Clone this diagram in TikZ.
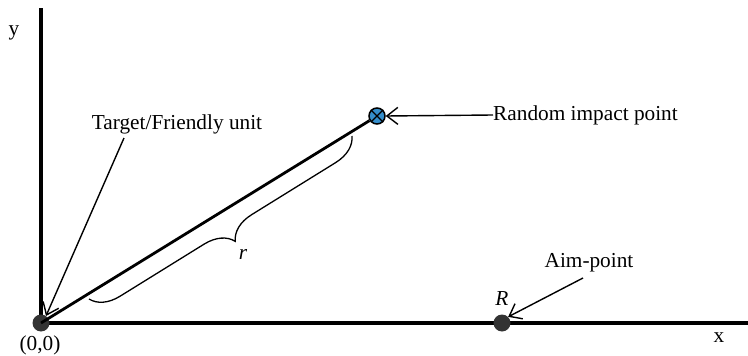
\documentclass[tikz,border=0pt]{standalone}
\usepackage{fontspec}
\setmainfont{Liberation Serif}
\usetikzlibrary{arrows.meta,decorations.pathreplacing}
\definecolor{impblue}{RGB}{52,142,204}
\begin{document}
\begin{tikzpicture}[x=1pt,y=-1pt,
  axis/.style={line width=3.2pt},
  lbl/.style={font=\fontsize{21.3}{24}\selectfont, inner sep=0pt},
  ilbl/.style={font=\fontsize{21.3}{24}\selectfont\itshape, inner sep=0pt},
  ptr/.style={line width=1.4pt,-{Straight Barb[length=11pt,width=17pt,line width=1.4pt]}},
  dot/.style={circle,fill=black!80,minimum size=17pt,inner sep=0pt}]
\useasboundingbox (0,0) rectangle (748,356);
\coordinate (O) at (41,323);
\coordinate (ytop) at (41,8);
\coordinate (xend) at (748,323);
\draw[axis] (ytop) -- (O) -- (xend);
\node[dot] (origin) at (O) {};
\node[lbl] (ylab) at (14,33) {y};
\node[lbl] (xlab) at (719,338) {x};
\node[lbl] (olab) at (40,345) {(0,0)};
% impact point
\node[circle,draw=black,line width=1.5pt,fill=impblue,minimum size=16pt,inner sep=0pt] (imp) at (377,116) {};
\draw[line width=1.2pt] (imp.north west) -- (imp.south east) (imp.north east) -- (imp.south west);
\draw[line width=2.8pt] (origin.center) -- (imp);
\node[lbl,anchor=west] (rip) at (493,115) {Random impact point};
\draw[ptr] (rip.west) -- (imp.east);
% target label
\node[lbl] (tgt) at (177,124) {Target/Friendly unit};
\draw[ptr] (124,138) -- (46,316);
% brace
\coordinate (b1) at (352,136);
\coordinate (b2) at (89,299);
\draw[line width=1.3pt,decorate,decoration={brace,amplitude=28pt,aspect=0.5}] (b1) -- (b2);
\node[ilbl] (r) at (243,254) {r};
% aim point
\node[dot] (aim) at (502,323) {};
\node[ilbl] (R) at (502,299) {R};
\node[lbl] (aimlab) at (589,263) {Aim-point};
\draw[ptr] (583,278) -- (aim.north east);
\end{tikzpicture}
\end{document}
